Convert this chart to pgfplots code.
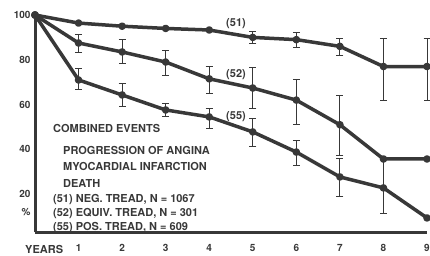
\documentclass[border=0pt]{standalone}
\usepackage{pgfplots}
\pgfplotsset{compat=1.18}
\usepackage{fontspec}
\setmainfont{TeX Gyre Heros}
\definecolor{ink}{HTML}{383838}
\pgfplotstableread{
x y ep em
0 100 0 0
1 96.4 0 0
2 95 0 0
3 94 0 0
4 93.3 0 0
5 90 2.9 2.5
6 89 3.4 3.3
7 86 3.7 4
8 77 12.7 15
9 77 12.7 15
}\negt
\pgfplotstableread{
x y ep em
0 100 0 0
1 87.5 3.8 4.3
2 83.5 5.5 5
3 79 5.4 5.8
4 71.5 5.5 6.5
5 67.4 9.2 8.9
6 62 9.4 10.7
7 51 13 13.5
8 35.7 0 0
9 35.7 0 0
}\eqvt
\pgfplotstableread{
x y ep em
0 100 0 0
1 71 5 4
2 64.3 5.3 5.3
3 57.6 3.1 3.1
4 54.5 4 5
5 47.8 6 6.3
6 38.8 5.2 5.8
7 27.7 8.3 8.9
8 22.8 12.9 11.2
9 9.4 0 0
}\post
\begin{document}
\begin{tikzpicture}[x=1pt,y=1pt]
\useasboundingbox (0,0) rectangle (430,255);
\begin{axis}[
  at={(35pt,23pt)}, anchor=south west,
  scale only axis, width=392pt, height=217pt,
  xmin=0, xmax=9, ymin=3.1, ymax=100,
  axis lines=left,
  axis line style={-, line width=3pt, ink},
  major tick length=0pt,
  xtick={1,...,9},
  ytick={12,20,40,60,80,100},
  yticklabels={\%,20,40,60,80,100},
  /pgf/number format/assume math mode=true,
  tick label style={font=\bfseries\fontsize{10}{10}\selectfont, text=ink},
  xticklabel style={yshift=-9pt},
  yticklabel style={xshift=-1pt},
  clip=false,
  every axis plot/.append style={line width=3.5pt, ink, line join=round},
  error bars/error bar style={line width=0.8pt, ink},
  error bars/error mark options={rotate=90, mark size=3.5pt, line width=0.8pt, ink},
]
\addplot[mark=none] table[x=x,y=y] {\negt};
\addplot[mark=*, mark size=2.3pt, mark indices={2,...,10}, mark options={fill=ink, draw=ink, line width=0pt}] table[x=x,y=y] {\eqvt};
\addplot[mark=*, mark size=1.1pt, mark indices={2,...,10}, mark options={fill=white, draw=white, line width=0pt}] table[x=x,y=y] {\post};
\addplot[only marks, mark=none, error bars/.cd, y dir=both, y explicit] table[x=x,y=y,y error plus=ep,y error minus=em] {\negt};
\addplot[only marks, mark=none, error bars/.cd, y dir=both, y explicit] table[x=x,y=y,y error plus=ep,y error minus=em] {\eqvt};
\addplot[only marks, mark=none, error bars/.cd, y dir=both, y explicit] table[x=x,y=y,y error plus=ep,y error minus=em] {\post};
\end{axis}
\begin{scope}[every node/.style={inner sep=0pt, text=ink, font=\bfseries\fontsize{11}{11}\selectfont}]
\node[anchor=west] at (25,6) {YEARS};
\node at (236,231) {(51)};
\node at (236,180) {(52)};
\node at (236,138) {(55)};
\node[anchor=west] at (53,127) {COMBINED EVENTS};
\node[anchor=west] at (63,105) {PROGRESSION OF ANGINA};
\node[anchor=west] at (63,89) {MYOCARDIAL INFARCTION};
\node[anchor=west] at (63,72) {DEATH};
\node[anchor=west] at (53,55) {(51) NEG. TREAD, N = 1067};
\node[anchor=west] at (53,41) {(52) EQUIV. TREAD, N = 301};
\node[anchor=west] at (53,27) {(55) POS. TREAD, N = 609};
\end{scope}
\end{tikzpicture}
\end{document}
